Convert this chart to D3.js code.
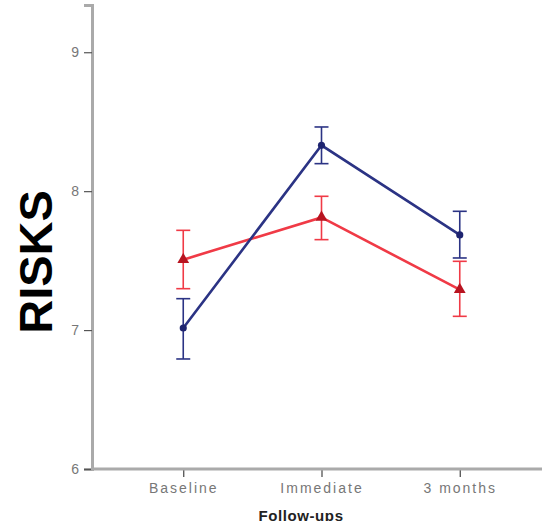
<!DOCTYPE html>
<html>
<head>
<meta charset="utf-8">
<script src="https://cdn.jsdelivr.net/npm/d3@7"></script>
<style>
	body { margin: 0; background: #fff; }
	svg { display: block; font-family: "Liberation Sans", Arial, sans-serif; }
</style>
</head>
<body>
<div id="chart-area"></div>
<script>

// data
const categories = ['Baseline', 'Immediate', '3 months'];
const yTicks = [6, 7, 8, 9];

const blueMean  = [7.015, 8.330, 7.685];
const blueLow   = [6.792, 8.198, 7.519];
const blueHigh  = [7.226, 8.462, 7.855];

const redMean   = [7.507, 7.811, 7.291];
const redLow    = [7.298, 7.651, 7.099];
const redHigh   = [7.718, 7.963, 7.495];

const W = 542, H = 521;

const svg = d3.select('#chart-area').append('svg')
	.attr('width', W)
	.attr('height', H);

// scales
let x = d3.scalePoint()
	.domain(categories)
	.range([92, 551])
	.padding(0.66);

let y = d3.scaleLinear()
	.domain([6, 9.34])
	.range([469, 5]);

// y axis
let yAxisCall = d3.axisLeft(y)
	.tickValues(yTicks)
	.tickSize(8)
	.tickPadding(5)
	.tickFormat(d3.format('d'));
let yAxis = svg.append('g')
	.attr('transform', 'translate(92, 0)')
	.call(yAxisCall);
yAxis.select('.domain')
	.attr('stroke', '#aaa')
	.attr('stroke-width', 3);
yAxis.selectAll('.tick line').attr('stroke', '#555').attr('stroke-width', 1.2);
yAxis.selectAll('.tick text')
	.attr('fill', '#777')
	.attr('font-size', '14px');

// x axis
let xAxisCall = d3.axisBottom(x)
	.tickSize(8)
	.tickPadding(6);
let xAxis = svg.append('g')
	.attr('transform', 'translate(0, 469)')
	.call(xAxisCall);
xAxis.select('.domain').remove();
xAxis.append('line')
	.attr('x1', 91).attr('x2', W)
	.attr('stroke', '#aaa')
	.attr('stroke-width', 3);
xAxis.selectAll('.tick line').attr('stroke', '#444').attr('stroke-width', 1.2);
xAxis.selectAll('.tick text')
	.attr('fill', '#777')
	.attr('font-size', '14px')
	.attr('letter-spacing', '2px');

// axis labels
svg.append('text')
	.attr('x', 301)
	.attr('y', 521)
	.attr('text-anchor', 'middle')
	.attr('font-size', '15px')
	.attr('font-weight', 'bold')
	.attr('letter-spacing', '0.6px')
	.attr('fill', '#222')
	.text('Follow-ups');

svg.append('text')
	.attr('x', -262)
	.attr('y', 52)
	.attr('transform', 'rotate(-90)')
	.attr('text-anchor', 'middle')
	.attr('font-size', '47px')
	.attr('font-weight', 'bold')
	.attr('fill', '#000')
	.text('RISKS');

// one series: error bars, line, markers
function drawSeries(mean, low, high, color, markColor, shape) {
	let rows = categories.map((c, i) => ({ c: c, m: mean[i], lo: low[i], hi: high[i] }));
	let g = svg.append('g');

	let eb = g.selectAll('.eb').data(rows).enter().append('g');
	eb.append('line')
		.attr('x1', d => x(d.c)).attr('x2', d => x(d.c))
		.attr('y1', d => y(d.lo)).attr('y2', d => y(d.hi))
		.attr('stroke', color).attr('stroke-width', 1.6);
	eb.append('line')
		.attr('x1', d => x(d.c) - 7).attr('x2', d => x(d.c) + 7)
		.attr('y1', d => y(d.lo)).attr('y2', d => y(d.lo))
		.attr('stroke', color).attr('stroke-width', 1.6);
	eb.append('line')
		.attr('x1', d => x(d.c) - 7).attr('x2', d => x(d.c) + 7)
		.attr('y1', d => y(d.hi)).attr('y2', d => y(d.hi))
		.attr('stroke', color).attr('stroke-width', 1.6);

	let line = d3.line().x(d => x(d.c)).y(d => y(d.m));
	g.append('path')
		.datum(rows)
		.attr('d', line)
		.attr('fill', 'none')
		.attr('stroke', color)
		.attr('stroke-width', 2.6);

	g.selectAll('.mk').data(rows).enter().append('path')
		.attr('transform', d => 'translate(' + x(d.c) + ',' + y(d.m) + ')')
		.attr('d', d3.symbol().type(shape).size(shape === d3.symbolTriangle ? 60 : 40))
		.attr('fill', markColor);
}

drawSeries(redMean, redLow, redHigh, '#f03a46', '#b81420', d3.symbolTriangle);
drawSeries(blueMean, blueLow, blueHigh, '#2b3384', '#1e2470', d3.symbolCircle);

</script>
</body>
</html>
